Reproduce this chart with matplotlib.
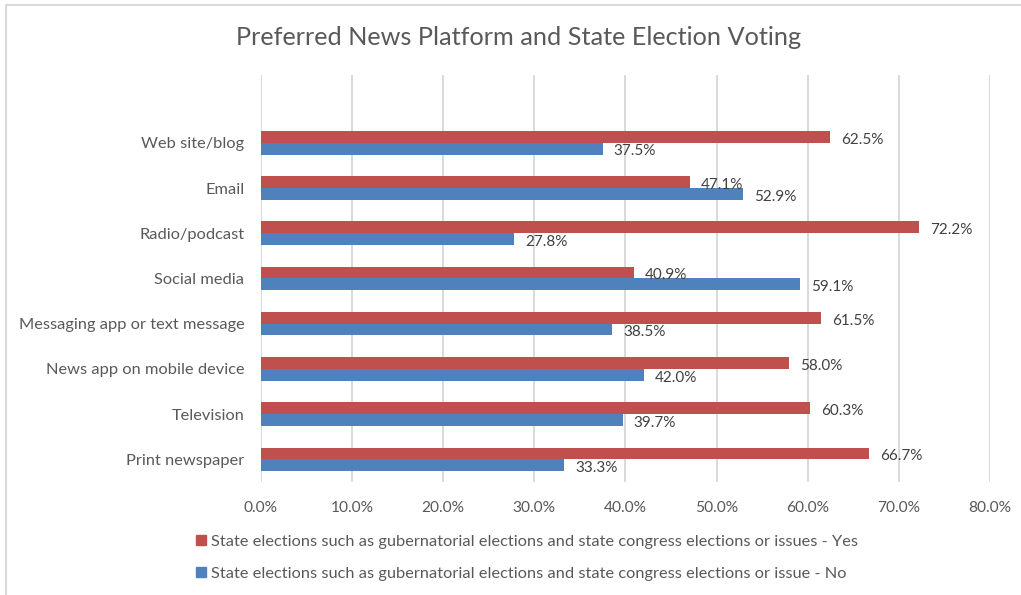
import numpy as np
import matplotlib.pyplot as plt
from matplotlib.patches import Rectangle, Patch
from matplotlib.ticker import FuncFormatter

plt.rcParams['font.family'] = ['Lato', 'DejaVu Sans']

# bottom-to-top order, as the category axis is drawn
platforms = ["Print newspaper", "Television", "News app on mobile device",
             "Messaging app or text message", "Social media", "Radio/podcast",
             "Email", "Web site/blog"]
yes_pct = [66.7, 60.3, 58.0, 61.5, 40.9, 72.2, 47.1, 62.5]
no_pct = [33.3, 39.7, 42.0, 38.5, 59.1, 27.8, 52.9, 37.5]
x_ticks = [0, 10, 20, 30, 40, 50, 60, 70, 80]

yes_label = "State elections such as gubernatorial elections and state congress elections or issues - Yes"
no_label = "State elections such as gubernatorial elections and state congress elections or issue - No"

red = "#C0504D"
blue = "#4F81BD"
text_col = "#595959"
grid_col = "#D9D9D9"

fig = plt.figure(figsize=(10.21, 5.95), dpi=100)
ax = fig.add_axes([0.2556, 0.19, 0.714, 0.684])

y = np.arange(len(platforms))
h = 0.26
bars_yes = ax.barh(y + h / 2, yes_pct, height=h, color=red, zorder=3)
bars_no = ax.barh(y - h / 2, no_pct, height=h, color=blue, zorder=3)

for bars, vals in ((bars_yes, yes_pct), (bars_no, no_pct)):
    for b, v in zip(bars, vals):
        ax.annotate(f"{v:.1f}%", (v, b.get_y() + b.get_height() / 2),
                    xytext=(8, -2), textcoords="offset points",
                    ha="left", va="center", fontsize=11, color="#404040")

ax.set_xlim(0, 80)
ax.set_ylim(-0.5, len(platforms) + 0.5)
ax.set_xticks(x_ticks)
ax.xaxis.set_major_formatter(FuncFormatter(lambda v, _: f"{v:.1f}%"))
ax.set_yticks(y)
ax.tick_params(length=0, labelsize=11.2, colors=text_col)
ax.set_yticklabels(platforms, fontsize=11.8)
ax.tick_params(axis="x", pad=14)
ax.tick_params(axis="y", pad=12)
ax.grid(axis="x", color=grid_col, linewidth=1.4, zorder=0)
for s in ax.spines.values():
    s.set_visible(False)

fig.text(0.508, 0.937, "Preferred News Platform and State Election Voting",
         ha="center", va="center", fontsize=18.2, color=text_col)

handles = [Patch(color=red), Patch(color=blue)]
fig.legend(handles, [yes_label, no_label], loc="upper left",
           bbox_to_anchor=(0.186, 0.112), frameon=False, fontsize=11.8,
           labelcolor=text_col, handlelength=0.6, handleheight=0.6,
           handletextpad=0.3, labelspacing=1.1, borderaxespad=0)

# thin frame around the chart area
fig.patches.append(Rectangle((6 / 1021, -0.05), 1.1, 1 - 5 / 595 + 0.05,
                             transform=fig.transFigure, fill=False,
                             edgecolor=grid_col, linewidth=1.5))

fig.savefig("out.png", dpi=100)
